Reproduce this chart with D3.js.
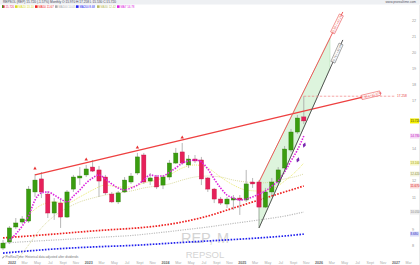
<!DOCTYPE html>
<html>
<head>
<meta charset="utf-8">
<script src="https://cdnjs.cloudflare.com/ajax/libs/d3/7.8.5/d3.min.js"></script>
<style>
body { margin: 0; background: #fff; }
svg { display: block; font-family: "Liberation Sans", Arial, sans-serif; }
</style>
</head>
<body>
<svg id="chart" width="420" height="265"></svg>
<script>
// monthly candles, index 0 = Dec 2021 (dividend adjusted prices)
var opens  = [7.81,8.19,9.12,9.43,9.49,11.30,12.11,11.17,9.99,10.61,9.74,11.48,12.17,12.36,12.85,12.67,12.23,11.17,10.68,11.30,11.92,12.48,13.60,11.98,12.23,11.73,12.23,13.10,13.79,12.98,13.35,13.29,12.17,11.48,10.86,10.55,10.80,10.92,10.80,11.92,11.92,10.36,11.30,11.92,12.79,13.91,15.03,15.97];
var highs  = [8.31,9.18,9.68,9.80,11.67,12.42,12.54,11.36,10.92,10.80,11.42,12.36,12.85,12.98,13.29,12.92,12.36,11.30,11.36,12.23,12.48,13.73,13.73,12.48,12.36,12.36,13.29,14.04,14.35,13.60,13.60,13.48,12.23,11.55,10.99,10.99,11.11,11.11,12.67,12.17,12.04,11.55,12.17,12.85,14.16,15.22,16.09,17.258];
var lows   = [7.69,8.06,9.00,9.31,9.37,10.99,10.92,9.68,9.56,9.06,9.68,11.30,11.73,12.23,12.54,10.99,11.11,10.61,10.55,11.24,11.80,12.36,11.80,11.73,11.48,11.48,12.04,13.04,12.98,12.79,13.10,11.73,11.30,10.61,10.49,10.30,10.18,9.87,10.68,11.55,9.06,10.30,11.11,11.80,12.67,13.79,14.91,15.53];
var closes = [8.12,9.06,9.37,9.62,11.48,12.04,11.30,9.99,10.68,9.74,11.30,12.23,12.29,12.73,12.60,11.98,11.24,10.68,11.24,12.04,12.29,13.48,11.92,12.17,11.61,12.23,13.10,13.72,13.10,13.35,13.23,12.11,11.48,10.86,10.61,10.86,10.92,10.80,11.80,11.80,10.36,11.30,11.92,12.67,13.97,15.03,15.90,15.72];

// moving averages
var maFastIdx = d3.range(1, 48);
var maFast = [8.31,8.68,9.18,9.80,10.80,11.24,11.30,11.11,10.86,10.68,11.05,11.42,11.86,12.17,12.36,12.11,11.80,11.55,11.42,11.55,11.73,12.04,12.36,12.29,12.29,12.54,12.79,13.10,13.23,13.29,13.16,12.73,12.11,11.55,11.11,10.92,10.80,10.86,10.99,11.17,11.36,11.67,11.98,12.54,13.23,13.91,14.78];
var maYellowIdx = [4,6,8,10,12,14,16,18,20,22,24,26,28,30,32,34,36,38,40,42,44,46,47];
var maYellow = [9.87,10.49,10.68,10.61,10.99,11.42,11.73,11.61,11.61,11.86,12.04,12.36,12.79,12.98,12.79,12.23,11.73,11.42,11.36,11.48,11.98,12.67,13.10];
var maKhakiIdx = [2,4,6,8,10,12,14,16,18,20,22,24,26,28,30,32,34,36,38,40,42,44,46,47];
var maKhaki = [6.94,8.00,9.06,9.80,10.30,10.68,10.92,11.11,11.24,11.36,11.55,11.67,11.80,12.04,12.23,12.29,12.23,12.04,11.92,11.86,11.92,12.11,12.29,12.42];
var maSlowIdx = [0,4,8,12,16,20,24,28,32,36,40,44,47];
var maRed  = [8.44,8.56,8.68,8.81,8.93,9.03,9.18,9.43,9.80,10.30,10.80,11.30,11.67];
var maGray = [8.12,8.22,8.31,8.40,8.50,8.59,8.75,8.93,9.12,9.34,9.56,9.80,10.05];
var maBlue = [7.50,7.63,7.75,7.84,7.91,7.97,8.06,8.16,8.25,8.34,8.44,8.56,8.68];

// drawn objects: [index, price]
var resistance = [[5, 12.36], [59, 17.46]];
var channelTop = [[40, 11.92], [53.1, 22.50]];
var channelBot = [[40, 9.06], [53.1, 20.76]];
var touchIdx = [5, 13, 21, 28];
var signalIdx = [46, 47];
var signalVal = [13.29, 14.22];

var monthNames = ["Jan","Feb","Mar","Apr","May","Jun","Jul","Aug","Sept","Oct","Nov","Dec"];
var yTicks = d3.range(8, 23);

var svg = d3.select("#chart");
var W = 420, H = 265;

var x = d3.scaleLinear().domain([0, 63]).range([3, 406.2]);
var y = d3.scaleLinear().domain([8, 22]).range([245, 20]);

function monthOf(i) { return (11 + i) % 12; }
function yearOf(i) { return 2021 + Math.floor((11 + i) / 12); }

svg.append("defs").append("clipPath").attr("id", "plot")
    .append("rect").attr("x", 0).attr("y", 9).attr("width", 409).attr("height", 251);

// header
svg.append("rect").attr("x", 0).attr("y", 0).attr("width", W).attr("height", 4.5).attr("fill", "#eef0f3");
svg.append("text").attr("x", 3).attr("y", 3.4).attr("font-size", 3.2).attr("fill", "#445")
    .text("REPSOL (REP) 15.720 (-1.57%) Monthly  O:15.970 H:17.258 L:15.530 C:15.720");
svg.append("text").attr("x", 416).attr("y", 3.4).attr("font-size", 3.2).attr("fill", "#556").attr("text-anchor", "end")
    .text("www.prorealtime.com");

// legend row
var last = closes.length - 1;
var legend = [
    {x: 2,   c: "#e6205a", t: closes[last].toFixed(3)},
    {x: 15,  c: "#d8d820", t: "MA20 " + maYellow[maYellow.length - 1].toFixed(2)},
    {x: 35,  c: "#ee2222", t: "MA50 " + maRed[maRed.length - 1].toFixed(2)},
    {x: 55,  c: "#aaaaaa", t: "MA100 " + maGray[maGray.length - 1].toFixed(2)},
    {x: 76,  c: "#2222ee", t: "MA200 " + maBlue[maBlue.length - 1].toFixed(2)},
    {x: 97,  c: "#b8b860", t: "MA30 " + maKhaki[maKhaki.length - 1].toFixed(2)},
    {x: 117, c: "#dd22dd", t: "MA7 " + maFast[maFast.length - 1].toFixed(2)}
];
var lg = svg.append("g").selectAll("g").data(legend).enter().append("g");
lg.append("rect").attr("x", function(d) { return d.x; }).attr("y", 5.3).attr("width", 2.6).attr("height", 2.6)
    .attr("fill", function(d) { return d.c; });
lg.filter(function(d, i) { return i === 0; }).append("rect")
    .attr("x", 2).attr("y", 5.3).attr("width", 1.3).attr("height", 2.6).attr("fill", "#3a9d0f");
lg.append("text").attr("x", function(d) { return d.x + 3.4; }).attr("y", 7.8).attr("font-size", 2.9)
    .attr("fill", function(d) { return d.c; }).text(function(d) { return d.t; });

// watermark
svg.append("text").attr("x", 205).attr("y", 243).attr("text-anchor", "middle").attr("font-size", 14.5)
    .attr("fill", "#d4d4d4").text("REP, M");
svg.append("text").attr("x", 205).attr("y", 257.5).attr("text-anchor", "middle").attr("font-size", 9.5)
    .attr("fill", "#d4d4d4").text("REPSOL");

var plot = svg.append("g").attr("clip-path", "url(#plot)");

// channel fill
function along(seg, i) {
    var t = (i - seg[0][0]) / (seg[1][0] - seg[0][0]);
    return seg[0][1] + t * (seg[1][1] - seg[0][1]);
}
var fillEnd = 51.1;
plot.append("path")
    .attr("d", "M" + x(40) + "," + y(along(channelTop, 40)) +
               "L" + x(fillEnd) + "," + y(along(channelTop, fillEnd)) +
               "L" + x(fillEnd) + "," + y(along(channelBot, fillEnd)) +
               "L" + x(40) + "," + y(along(channelBot, 40)) + "Z")
    .attr("fill", "rgba(150,220,150,0.32)").attr("stroke", "rgba(120,200,120,0.5)").attr("stroke-width", 0.5);

// moving averages
function drawMA(idx, vals, color, width, dash) {
    var pts = idx.map(function(k, i) { return [k, vals[i]]; });
    plot.append("path")
        .attr("d", d3.line().x(function(d) { return x(d[0]); }).y(function(d) { return y(d[1]); })
            .curve(d3.curveMonotoneX)(pts))
        .attr("fill", "none").attr("stroke", color).attr("stroke-width", width).attr("stroke-dasharray", dash);
}
drawMA(maSlowIdx, maBlue, "#2020ee", 1.7, "1.6 1.4");
drawMA(maSlowIdx, maGray, "#bdbdbd", 1.2, "1.2 1.2");
drawMA(maSlowIdx, maRed, "#ee2020", 1.7, "1.6 1.4");
drawMA(maKhakiIdx, maKhaki, "#d2d28c", 0.8, "1 1");
drawMA(maYellowIdx, maYellow, "#e6e650", 0.8, "1 1");

// candles
var bw = 4.2;
var candle = plot.append("g").selectAll("g").data(opens).enter().append("g");
candle.append("line")
    .attr("x1", function(d, i) { return x(i); }).attr("x2", function(d, i) { return x(i); })
    .attr("y1", function(d, i) { return y(highs[i]); }).attr("y2", function(d, i) { return y(lows[i]); })
    .attr("stroke", "#9a9a9a").attr("stroke-width", 0.7);
candle.append("rect")
    .attr("x", function(d, i) { return x(i) - bw / 2; })
    .attr("y", function(d, i) { return y(Math.max(opens[i], closes[i])); })
    .attr("width", bw)
    .attr("height", function(d, i) { return Math.max(0.8, Math.abs(y(opens[i]) - y(closes[i]))); })
    .attr("fill", function(d, i) { return closes[i] >= opens[i] ? "#3a9d0f" : "#e6205a"; })
    .attr("stroke", function(d, i) { return closes[i] >= opens[i] ? "#2a7a05" : "#c0103f"; })
    .attr("stroke-width", 0.4);

drawMA(maFastIdx, maFast, "#dd22dd", 1.6, "1.5 1.3");

// touch markers above highs
plot.append("g").selectAll("path").data(touchIdx).enter().append("path")
    .attr("d", d3.symbol().type(d3.symbolTriangle).size(5))
    .attr("transform", function(k) { return "translate(" + x(k) + "," + (y(highs[k]) - 5.5) + ")"; })
    .attr("fill", "#e83030");

// signals
plot.append("g").selectAll("path").data(signalIdx).enter().append("path")
    .attr("d", d3.symbol().type(d3.symbolDiamond).size(9))
    .attr("transform", function(k, i) { return "translate(" + (x(k) + 0.5) + "," + y(signalVal[i]) + ") rotate(20)"; })
    .attr("fill", "#7a28b0");

// trend lines
function seg(p, color, w) {
    plot.append("line")
        .attr("x1", x(p[0][0])).attr("y1", y(p[0][1]))
        .attr("x2", x(p[1][0])).attr("y2", y(p[1][1]))
        .attr("stroke", color).attr("stroke-width", w);
}
function tag(p, t, len, txt, color) {
    var x0 = x(p[0][0]), y0 = y(p[0][1]), x1 = x(p[1][0]), y1 = y(p[1][1]);
    var cx = x0 + t * (x1 - x0), cy = y0 + t * (y1 - y0);
    var ang = Math.atan2(y1 - y0, x1 - x0) * 180 / Math.PI;
    var g = plot.append("g").attr("transform", "translate(" + cx + "," + cy + ") rotate(" + ang + ")");
    g.append("rect").attr("x", -len / 2).attr("y", -2.2).attr("width", len).attr("height", 4.4)
        .attr("fill", "#fff").attr("stroke", color).attr("stroke-width", 0.5);
    g.append("text").attr("x", 0).attr("y", 1.1).attr("text-anchor", "middle").attr("font-size", 3)
        .attr("fill", color).text(txt);
}
seg(resistance, "#ee4040", 1.3);
seg(channelTop, "#ee5a5a", 1);
seg(channelBot, "#555", 1);
tag(resistance, 0.972, 19, "17.46 / +11.07%", "#e84040");
tag(channelTop, 0.93, 20, "22.50 / +43.1%", "#e84040");
tag(channelBot, 0.93, 20, "20.76 / +32.0%", "#666");

// high of the last bar
plot.append("line")
    .attr("x1", x(last)).attr("x2", x(61.3)).attr("y1", y(highs[last])).attr("y2", y(highs[last]))
    .attr("stroke", "#f08080").attr("stroke-width", 0.7).attr("stroke-dasharray", "2.5 1.5");
svg.append("text").attr("x", 397).attr("y", y(highs[last]) + 1.2).attr("font-size", 3.2)
    .attr("fill", "#e84040").text(d3.format(".3f")(highs[last]));

// last value tags on the price axis
var tags = [
    {v: closes[last], bg: "#f4f000", fg: "#333"},
    {v: maFast[maFast.length - 1], bg: "#f6d8f6", fg: "#c020c0"},
    {v: maYellow[maYellow.length - 1], bg: "#f8f8c8", fg: "#a0a000"},
    {v: maKhaki[maKhaki.length - 1], bg: "#f4f4dc", fg: "#909050"},
    {v: maRed[maRed.length - 1], bg: "#fcd8d8", fg: "#d02020"},
    {v: maGray[maGray.length - 1], bg: "#eeeeee", fg: "#888"},
    {v: maBlue[maBlue.length - 1], bg: "#dcdcf8", fg: "#2020c0"}
];

// axes
var xAxis = svg.append("g").attr("transform", "translate(0,259.5)")
    .call(d3.axisBottom(x).tickValues(d3.range(1, 64, 2)).tickSize(0).tickPadding(1.5)
        .tickFormat(function(i) { return monthOf(i) === 0 ? yearOf(i) : monthNames[monthOf(i)]; }));
xAxis.select(".domain").remove();
xAxis.selectAll("text").attr("x", 2).attr("font-size", 3.6)
    .attr("fill", function(i) { return monthOf(i) === 0 ? "#666" : "#aaa"; })
    .attr("font-weight", function(i) { return monthOf(i) === 0 ? "bold" : "normal"; });

// price ticks that would sit under a value tag are left out
var freeTicks = yTicks.filter(function(v) {
    return tags.every(function(t) { return Math.abs(y(v) - y(t.v)) > 5; }) &&
           Math.abs(y(v) - y(highs[last])) > 4;
});
var yAxis = svg.append("g").attr("transform", "translate(410,0)")
    .call(d3.axisRight(y).tickValues(freeTicks).tickSize(0).tickPadding(2).tickFormat(d3.format("d")));
yAxis.select(".domain").remove();
yAxis.selectAll("text").attr("font-size", 3.8).attr("fill", "#999");

svg.append("line").attr("x1", 419.5).attr("x2", 419.5).attr("y1", 5).attr("y2", H)
    .attr("stroke", "#ddd").attr("stroke-width", 0.6);

var tg = svg.append("g").selectAll("g").data(tags).enter().append("g")
    .attr("transform", function(d) { return "translate(410," + y(d.v) + ")"; });
tg.append("rect").attr("x", 0).attr("y", -2.5).attr("width", 9).attr("height", 5)
    .attr("fill", function(d) { return d.bg; });
tg.append("text").attr("x", 0.6).attr("y", 1.1).attr("font-size", 3)
    .attr("fill", function(d) { return d.fg; }).text(function(d) { return d.v.toFixed(3); });

// footnote
svg.append("path").attr("d", "M2,258 l2,-2 l0.6,0.6 l-2,2 z").attr("fill", "#888");
svg.append("text").attr("x", 5.5).attr("y", 258.4).attr("font-size", 3.1).attr("fill", "#777")
    .text("ProRealTime: Historical data adjusted after dividends");
</script>
</body>
</html>
